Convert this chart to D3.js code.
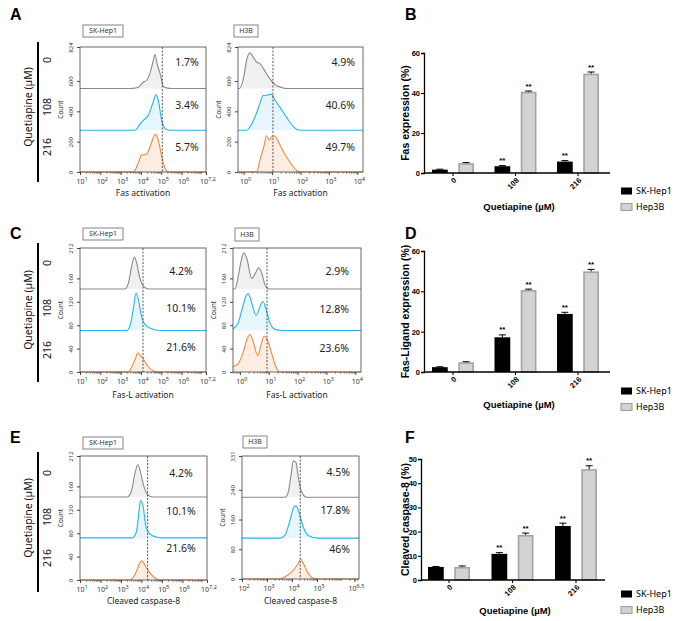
<!DOCTYPE html>
<html>
<head>
<meta charset="utf-8">
<script src="https://cdn.jsdelivr.net/npm/d3@7"></script>
<style>
  body { margin: 0; background: #fff; }
  text { font-family: 'Noto Sans', sans-serif; }
  .bold { font-family: 'Liberation Sans', Arial, sans-serif; font-weight: bold; }
</style>
</head>
<body>
<svg width="677" height="621"></svg>
<script>
const svg = d3.select('svg');

// categories
const doses = ['0', '108', '216'];
const cellLines = ['SK-Hep1', 'Hep3B'];
const sigMarks = ['', '**', '**'];

// bar charts (%), mean and error
const fasBarSK = [1.7, 3.4, 5.7];
const fasBarSKErr = [0.2, 0.3, 0.5];
const fasBarHep = [4.9, 40.6, 49.7];
const fasBarHepErr = [0.3, 0.4, 0.8];
const faslBarSK = [2.4, 17.2, 28.8];
const faslBarSKErr = [0.2, 1.2, 0.8];
const faslBarHep = [4.8, 40.7, 49.9];
const faslBarHepErr = [0.3, 0.4, 1.0];
const casBarSK = [5.4, 10.8, 22.3];
const casBarSKErr = [0.2, 0.5, 1.2];
const casBarHep = [5.4, 18.6, 45.8];
const casBarHepErr = [0.4, 0.8, 1.4];

// percentages printed on histograms
const fasPctSK = ['1.7%', '3.4%', '5.7%'];
const fasPctH3B = ['4.9%', '40.6%', '49.7%'];
const faslPctSK = ['4.2%', '10.1%', '21.6%'];
const faslPctH3B = ['2.9%', '12.8%', '23.6%'];
const casPctSK = ['4.2%', '10.1%', '21.6%'];
const casPctH3B = ['4.5%', '17.8%', '46%'];

// flow histograms: [log10 intensity, count above the trace baseline]
const histFasSK0 = [[3.5,0],[3.7,3],[3.9,12],[4.1,40],[4.3,58],[4.45,105],[4.6,180],[4.69,225],[4.8,160],[4.95,95],[5.1,15],[5.3,3],[5.5,0]];
const histFasSK108 = [[3.7,0],[3.95,40],[4.12,66],[4.36,99],[4.58,178],[4.74,235],[4.85,198],[5.02,66],[5.18,13],[5.4,0]];
const histFasSK216 = [[3.62,0],[3.87,59],[4.03,112],[4.28,119],[4.48,178],[4.69,248],[4.85,211],[5.02,101],[5.18,26],[5.35,0]];
const histFasH0 = [[-0.15,0],[0,75],[0.1,185],[0.22,235],[0.34,206],[0.46,173],[0.58,163],[0.7,130],[0.88,75],[1.1,26],[1.34,7],[1.5,0]];
const histFasH108 = [[0.1,0],[0.22,22],[0.4,88],[0.57,176],[0.69,231],[0.78,228],[0.86,235],[0.98,237],[1.1,198],[1.27,154],[1.5,88],[1.74,26],[1.97,0]];
const histFasH216 = [[0.46,0],[0.57,79],[0.71,167],[0.8,239],[0.9,211],[0.98,231],[1.1,237],[1.22,200],[1.4,134],[1.58,79],[1.75,33],[2.0,0]];

const histFaslSK0 = [[3.21,0],[3.38,10],[3.54,38],[3.67,55],[3.79,44],[3.95,18],[4.12,5],[4.4,0]];
const histFaslSK108 = [[3.3,0],[3.5,13],[3.62,36],[3.76,64],[3.87,53],[4.04,22],[4.2,10],[4.53,3],[4.9,0]];
const histFaslSK216 = [[3.38,0],[3.59,12],[3.76,26],[3.84,33],[3.95,29],[4.12,22],[4.36,9],[4.61,2],[4.8,0]];
const histFaslH0 = [[-0.17,0],[-0.06,21],[0.06,52],[0.14,62],[0.24,52],[0.41,18],[0.56,29],[0.64,36],[0.76,27],[0.87,7],[1.0,0]];
const histFaslH108 = [[-0.24,3],[-0.14,7],[-0.06,13],[0.1,41],[0.21,59],[0.29,63],[0.41,47],[0.56,26],[0.7,41],[0.79,50],[0.91,36],[1.04,13],[1.22,2],[1.45,0]];
const histFaslH216 = [[-0.24,9],[-0.06,14],[0.12,35],[0.26,58],[0.35,64],[0.46,52],[0.62,28],[0.72,44],[0.84,61],[0.95,55],[1.1,32],[1.25,9],[1.37,0]];

const histCasSK0 = [[3.3,0],[3.5,9],[3.67,38],[3.82,55],[3.95,43],[4.12,18],[4.28,5],[4.55,0]];
const histCasSK108 = [[3.54,0],[3.76,11],[3.87,42],[3.95,64],[4.08,54],[4.23,17],[4.44,6],[4.77,1],[4.95,0]];
const histCasSK216 = [[3.46,0],[3.71,11],[3.92,29],[4.03,33],[4.2,23],[4.44,11],[4.69,3],[4.9,0]];
const histCasH0 = [[3.72,0],[3.85,14],[3.96,59],[4.05,98],[4.16,94],[4.25,55],[4.39,14],[4.59,0]];
const histCasH108 = [[3.52,0],[3.72,8],[3.92,48],[4.08,84],[4.16,87],[4.25,75],[4.45,30],[4.65,7],[5.04,0]];
const histCasH216 = [[3.52,0],[3.72,6],[3.92,15],[4.12,29],[4.25,42],[4.35,53],[4.45,42],[4.65,15],[4.85,2],[5.1,0]];

// trace colours per dose
const traceLine = ['#8a8a8a', '#22b5ea', '#f08a3e'];
const traceFill = ['#f0f0f0', '#e6f6fc', '#fcede3'];

const histPanels = [
  { x0: 80, x1: 206, y0: 47, y1: 172, dom: [1, 7.2], xTicks: [1,2,3,4,5,6,7.2], yMax: 824, yTicks: [0,200,400,600,824],
    offsets: [550, 275, 0], curves: [histFasSK0, histFasSK108, histFasSK216], box: [83, 25, 40, 12], name: 'SK-Hep1',
    pct: fasPctSK, pctX: 187, pctAnchor: 'middle', pctY: [62, 105, 147], cut: 5.05, xTitle: 'Fas activation', xTitleY: 196 },
  { x0: 238, x1: 363, y0: 47, y1: 172, dom: [-0.2, 4.2], xTicks: [0,1,2,3,4], yMax: 824, yTicks: [0,200,400,600,824],
    offsets: [550, 275, 0], curves: [histFasH0, histFasH108, histFasH216], box: [234, 25, 24, 12], name: 'H3B',
    pct: fasPctH3B, pctX: 355, pctAnchor: 'end', pctY: [62, 105, 147], cut: 1.03, xTitle: 'Fas activation', xTitleY: 196 },
  { x0: 80, x1: 206, y0: 248, y1: 372, dom: [1, 7.2], xTicks: [1,2,3,4,5,6,7.2], yMax: 212, yTicks: [0,40,80,120,160,212],
    offsets: [142, 71, 0], curves: [histFaslSK0, histFaslSK108, histFaslSK216], box: [83, 228, 40, 12], name: 'SK-Hep1',
    pct: faslPctSK, pctX: 181, pctAnchor: 'middle', pctY: [271, 308, 347], cut: 4.1, xTitle: 'Fas-L activation', xTitleY: 398 },
  { x0: 233, x1: 361, y0: 248, y1: 372, dom: [-0.24, 4.2], xTicks: [0,1,2,3,4], yMax: 212, yTicks: [0,40,80,120,160,212],
    offsets: [142, 71, 0], curves: [histFaslH0, histFaslH108, histFaslH216], box: [235, 228, 24, 13], name: 'H3B',
    pct: faslPctH3B, pctX: 349, pctAnchor: 'end', pctY: [271, 309, 348], cut: 0.94, xTitle: 'Fas-L activation', xTitleY: 398 },
  { x0: 80, x1: 207, y0: 456, y1: 580, dom: [1, 7.2], xTicks: [1,2,3,4,5,6,7.2], yMax: 212, yTicks: [0,40,80,120,160,212],
    offsets: [142, 72, 0], curves: [histCasSK0, histCasSK108, histCasSK216], box: [83, 437, 40, 12], name: 'SK-Hep1',
    pct: casPctSK, pctX: 181, pctAnchor: 'middle', pctY: [473, 511, 548], cut: 4.3, xTitle: 'Cleaved caspase-8', xTitleY: 604 },
  { x0: 242, x1: 359, y0: 456, y1: 579, dom: [2, 6.68], xTicks: [2,3,4,5,6.5], yMax: 331, yTicks: [0,80,160,240,331],
    offsets: [220, 110, 0], curves: [histCasH0, histCasH108, histCasH216], box: [243, 436, 24, 12], name: 'H3B',
    pct: casPctH3B, pctX: 350, pctAnchor: 'end', pctY: [472, 510, 549], cut: 4.33, xTitle: 'Cleaved caspase-8', xTitleY: 604 },
];

const drawHist = p => {
  const g = svg.append('g');
  const x = d3.scaleLinear().domain(p.dom).range([p.x0, p.x1]);
  const y = d3.scaleLinear().domain([0, p.yMax]).range([p.y1, p.y0]);

  // traces, bottom one first
  [2, 1, 0].forEach(i => {
    const off = p.offsets[i];
    let pts = p.curves[i].slice();
    if (pts[0][0] > p.dom[0]) pts = [[p.dom[0], 0], ...pts];
    if (pts[pts.length - 1][0] < p.dom[1]) pts = [...pts, [p.dom[1], 0]];
    g.append('path')
      .datum(pts)
      .attr('fill', traceFill[i])
      .attr('d', d3.area().curve(d3.curveMonotoneX)
        .x(d => x(d[0])).y0(y(off)).y1(d => y(off + d[1])));
    g.append('path')
      .datum(pts)
      .attr('fill', 'none')
      .attr('stroke', traceLine[i])
      .attr('stroke-width', 1.1)
      .attr('d', d3.line().curve(d3.curveMonotoneX)
        .x(d => x(d[0])).y(d => y(off + d[1])));
  });

  // gate line
  g.append('line')
    .attr('x1', x(p.cut)).attr('x2', x(p.cut))
    .attr('y1', p.y0).attr('y2', p.y1)
    .attr('stroke', '#444').attr('stroke-width', 0.9)
    .attr('stroke-dasharray', '2,1.5');

  g.append('rect')
    .attr('x', p.x0).attr('y', p.y0)
    .attr('width', p.x1 - p.x0).attr('height', p.y1 - p.y0)
    .attr('fill', 'none').attr('stroke', '#444').attr('stroke-width', 0.8);

  // y axis
  const ya = g.append('g').attr('transform', `translate(${p.x0},0)`)
    .call(d3.axisLeft(y).tickValues(p.yTicks).tickSize(3).tickFormat(d3.format('d')));
  ya.select('.domain').remove();
  ya.selectAll('line').attr('stroke', '#444');
  ya.selectAll('text')
    .attr('x', null).attr('dy', null)
    .attr('transform', 'translate(-7,0) rotate(-90)')
    .attr('text-anchor', 'middle')
    .attr('font-size', 6).attr('fill', '#333')
    .attr('font-family', 'Noto Sans');
  g.append('text')
    .attr('transform', `translate(${p.x0 - 17},${(p.y0 + p.y1) / 2}) rotate(-90)`)
    .attr('text-anchor', 'middle')
    .attr('font-size', 6.5).attr('fill', '#333')
    .text('Count');

  // x axis, log decades
  const minors = [];
  for (let n = Math.floor(p.dom[0]); n < p.dom[1]; n++) {
    for (let k = 2; k <= 9; k++) {
      const v = n + Math.log10(k);
      if (v > p.dom[0] && v < p.dom[1]) minors.push(v);
    }
  }
  const xa = g.append('g').attr('transform', `translate(0,${p.y1})`)
    .call(d3.axisBottom(x).tickValues(p.xTicks).tickSize(3).tickFormat(''));
  xa.select('.domain').remove();
  xa.selectAll('line').attr('stroke', '#444');
  const xm = g.append('g').attr('transform', `translate(0,${p.y1})`)
    .call(d3.axisBottom(x).tickValues(minors).tickSize(1.6).tickFormat(''));
  xm.select('.domain').remove();
  xm.selectAll('line').attr('stroke', '#666');

  p.xTicks.forEach(t => {
    const tx = g.append('text')
      .attr('x', x(t) + 2).attr('y', p.y1 + 12)
      .attr('text-anchor', 'middle')
      .attr('font-size', 7).attr('fill', '#333');
    tx.append('tspan').text('10');
    tx.append('tspan').attr('dy', -3).attr('font-size', 5.5).text(t);
  });
  g.append('text')
    .attr('x', (p.x0 + p.x1) / 2).attr('y', p.xTitleY)
    .attr('text-anchor', 'middle')
    .attr('font-size', 8.5).attr('fill', '#222')
    .text(p.xTitle);

  // percentages
  p.pct.forEach((s, i) => {
    g.append('text')
      .attr('x', p.pctX).attr('y', p.pctY[i])
      .attr('dy', '0.35em')
      .attr('text-anchor', p.pctAnchor)
      .attr('font-size', 10.5).attr('fill', '#222')
      .text(s);
  });

  // cell line tag
  g.append('rect')
    .attr('x', p.box[0]).attr('y', p.box[1])
    .attr('width', p.box[2]).attr('height', p.box[3])
    .attr('fill', '#fff').attr('stroke', '#666').attr('stroke-width', 0.8);
  g.append('text')
    .attr('x', p.box[0] + p.box[2] / 2).attr('y', p.box[1] + p.box[3] / 2)
    .attr('dy', '0.35em')
    .attr('text-anchor', 'middle')
    .attr('font-size', 7).attr('fill', '#333')
    .text(p.name);
};

histPanels.forEach(drawHist);

// dose labels on the left of each histogram row
const rowSides = [
  { top: 42, bottom: 182, titleY: 107, doseY: [60, 107, 147] },
  { top: 243, bottom: 382, titleY: 310, doseY: [263, 308, 350] },
  { top: 452, bottom: 592, titleY: 518, doseY: [473, 517, 558] },
];
rowSides.forEach(r => {
  svg.append('line')
    .attr('x1', 38).attr('x2', 38).attr('y1', r.top).attr('y2', r.bottom)
    .attr('stroke', '#000').attr('stroke-width', 2);
  svg.append('text')
    .attr('transform', `translate(28,${r.titleY}) rotate(-90)`)
    .attr('text-anchor', 'middle').attr('dy', '0.35em')
    .attr('font-size', 10.5).attr('fill', '#111')
    .text('Quetiapine (µM)');
  doses.forEach((d, i) => {
    svg.append('text')
      .attr('transform', `translate(47,${r.doseY[i]}) rotate(-90)`)
      .attr('text-anchor', 'middle').attr('dy', '0.35em')
      .attr('font-size', 10.5).attr('fill', '#111')
      .text(d);
  });
});

// bar charts
const barColors = { fill: ['#000', '#d3d3d3'], stroke: ['#000', '#a3a3a3'] };

const barPanels = [
  { axisX: 424, axisEnd: 610, yTop: 53, yBottom: 173, c0: 453, c2: 578, yMax: 60, yTicks: [0,20,40,60],
    values: [fasBarSK, fasBarHep], errs: [fasBarSKErr, fasBarHepErr], yTitle: 'Fas expression (%)',
    xTitleY: 210, legendY: [191, 207] },
  { axisX: 424, axisEnd: 610, yTop: 251, yBottom: 372, c0: 453, c2: 578, yMax: 60, yTicks: [0,20,40,60],
    values: [faslBarSK, faslBarHep], errs: [faslBarSKErr, faslBarHepErr], yTitle: 'Fas-Ligand expression (%)',
    xTitleY: 408, legendY: [391, 407] },
  { axisX: 421, axisEnd: 605, yTop: 459, yBottom: 580, c0: 449, c2: 576, yMax: 50, yTicks: [0,10,20,30,40,50],
    values: [casBarSK, casBarHep], errs: [casBarSKErr, casBarHepErr], yTitle: 'Cleaved caspase-8 (%)',
    xTitleY: 614, legendY: [594, 610] },
];

const drawBars = p => {
  const g = svg.append('g');
  const x0 = d3.scalePoint().domain(doses).range([p.c0, p.c2]);
  const x1 = d3.scaleBand().domain(cellLines).range([-21, 21]).paddingInner(0.4);
  const y = d3.scaleLinear().domain([0, p.yMax]).range([p.yBottom, p.yTop]);

  cellLines.forEach((c, s) => {
    doses.forEach((d, i) => {
      const v = p.values[s][i];
      const e = p.errs[s][i];
      const bx = x0(d) + x1(c);
      const bw = x1.bandwidth();
      const inset = s === 1 ? 0.8 : 0;
      g.append('rect')
        .attr('x', bx + inset).attr('y', y(v) + inset)
        .attr('width', bw - 2 * inset).attr('height', y(0) - y(v) - inset)
        .attr('fill', barColors.fill[s])
        .attr('stroke', barColors.stroke[s])
        .attr('stroke-width', s === 1 ? 1.6 : 0);
      const cx = bx + bw / 2;
      g.append('line')
        .attr('x1', cx).attr('x2', cx).attr('y1', y(v)).attr('y2', y(v + e))
        .attr('stroke', '#000').attr('stroke-width', 1);
      g.append('line')
        .attr('x1', cx - 3.5).attr('x2', cx + 3.5).attr('y1', y(v + e)).attr('y2', y(v + e))
        .attr('stroke', '#000').attr('stroke-width', 1);
      if (sigMarks[i]) {
        g.append('text')
          .attr('class', 'bold')
          .attr('x', cx).attr('y', y(v + e) - 2.5)
          .attr('text-anchor', 'middle')
          .attr('font-size', 8)
          .text(sigMarks[i]);
      }
    });
  });

  // y axis
  const ya = g.append('g').attr('transform', `translate(${p.axisX},0)`)
    .call(d3.axisLeft(y).tickValues(p.yTicks).tickSize(3));
  ya.select('.domain').attr('stroke', '#000').attr('stroke-width', 1.3);
  ya.selectAll('line').attr('stroke', '#000').attr('stroke-width', 1.1);
  ya.selectAll('text').attr('class', 'bold').attr('font-size', 7.5).attr('fill', '#000').attr('x', -4);

  // x axis
  g.append('line')
    .attr('x1', p.axisX).attr('x2', p.axisEnd).attr('y1', y(0)).attr('y2', y(0))
    .attr('stroke', '#000').attr('stroke-width', 1.3);
  doses.forEach(d => {
    g.append('line')
      .attr('x1', x0(d)).attr('x2', x0(d)).attr('y1', y(0)).attr('y2', y(0) + 3)
      .attr('stroke', '#000').attr('stroke-width', 1.1);
    g.append('text')
      .attr('class', 'bold')
      .attr('transform', `translate(${x0(d) + 2},${y(0) + 6}) rotate(-45)`)
      .attr('text-anchor', 'end').attr('dy', '0.35em')
      .attr('font-size', 7.5)
      .text(d);
  });

  g.append('text')
    .attr('class', 'bold')
    .attr('x', (p.axisX + p.axisEnd) / 2 + 2).attr('y', p.xTitleY)
    .attr('text-anchor', 'middle')
    .attr('font-size', 9.5)
    .text('Quetiapine (µM)');
  g.append('text')
    .attr('class', 'bold')
    .attr('transform', `translate(405,${(p.yTop + p.yBottom) / 2}) rotate(-90)`)
    .attr('text-anchor', 'middle').attr('dy', '0.35em')
    .attr('font-size', 10.5)
    .text(p.yTitle);

  // legend
  cellLines.forEach((c, s) => {
    g.append('rect')
      .attr('x', 621).attr('y', p.legendY[s] - 3.5)
      .attr('width', 11).attr('height', 7)
      .attr('fill', barColors.fill[s])
      .attr('stroke', barColors.stroke[s])
      .attr('stroke-width', s === 1 ? 1.2 : 0);
    g.append('text')
      .attr('x', 636).attr('y', p.legendY[s])
      .attr('dy', '0.35em')
      .attr('font-family', 'Liberation Sans, Arial, sans-serif')
      .attr('font-size', 9)
      .text(c);
  });
};

barPanels.forEach(drawBars);

// panel letters
const panelLetters = ['A', 'B', 'C', 'D', 'E', 'F'];
const letterPos = [[10, 20], [405, 20], [10, 239], [405, 239], [10, 443], [405, 443]];
panelLetters.forEach((l, i) => {
  svg.append('text')
    .attr('class', 'bold')
    .attr('x', letterPos[i][0]).attr('y', letterPos[i][1])
    .attr('font-size', 16)
    .text(l);
});
</script>
</body>
</html>
